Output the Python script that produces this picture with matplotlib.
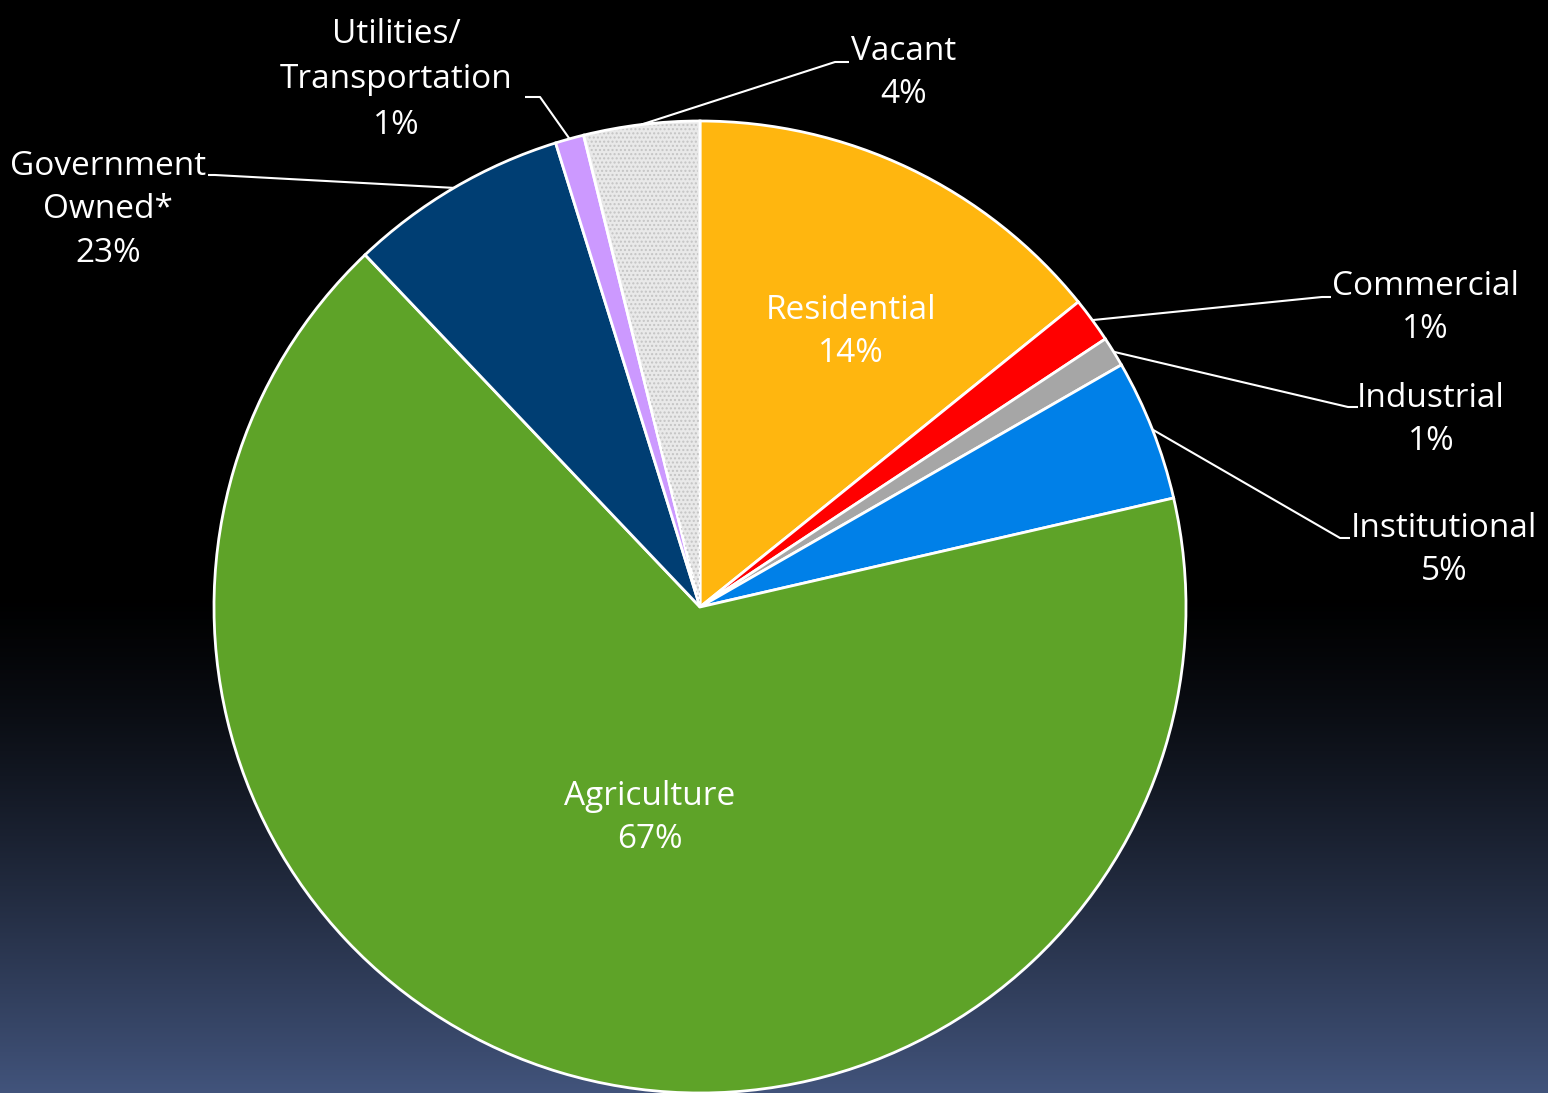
import numpy as np
import matplotlib
matplotlib.use("Agg")
import matplotlib.pyplot as plt
import matplotlib.patches as mpatches

# ---- data ----
categories = ['Residential', 'Commercial', 'Industrial', 'Institutional',
              'Agriculture', 'Government\nOwned*', 'Utilities/\nTransportation', 'Vacant']
slice_values = [14.2, 1.5, 1.0, 4.7, 66.5, 7.3, 0.95, 3.85]
label_pcts = ['14%', '1%', '1%', '5%', '67%', '23%', '1%', '4%']

# ---- style ----
colors = ['#FFB60F', '#FF0000', '#A6A6A6', '#0080E8', '#5EA328', '#003E73', '#CC99FF', '#E9E9E9']
W, H = 1548, 1093
CX, CY, R = 700, 607, 486

plt.rcParams['font.family'] = ['Open Sans', 'DejaVu Sans']

fig = plt.figure(figsize=(W / 100, H / 100), dpi=100)
ax = fig.add_axes([0, 0, 1, 1])

# background gradient
rows = np.arange(H)
t = np.clip((rows - 590) / (H - 590), 0, 1) ** 1.3
top = np.array([0, 0, 0]) / 255
bot = np.array([66, 84, 124]) / 255
grad = top[None, :] + t[:, None] * (bot - top)[None, :]
img = np.repeat(grad[:, None, :], 2, axis=1)
ax.imshow(img, extent=[0, W, H, 0], aspect='auto', zorder=0)

wedges, _ = ax.pie(slice_values, colors=colors, startangle=-90, counterclock=True,
                   center=(CX, CY), radius=R, frame=True,
                   wedgeprops=dict(edgecolor='white', linewidth=2))
for w in wedges:
    w.set_zorder(2)
ax.set_xlim(0, W)
ax.set_ylim(H, 0)
ax.set_aspect('equal')
ax.axis('off')

# texture on Vacant
vw = wedges[7]
hat = mpatches.Wedge((CX, CY), R - 2, vw.theta1 + 0.3, vw.theta2 - 0.3, facecolor='none',
                     edgecolor='#c4c4c4', linewidth=0, hatch='....', zorder=3)
ax.add_patch(hat)

txt = dict(color='white', fontsize=24, ha='center', va='center', zorder=5)

# inside labels
inside = {0: (851, 332), 4: (650, 818)}
for i, (x, y) in inside.items():
    ax.text(x, y, f"{categories[i]}\n{label_pcts[i]}", linespacing=1.38, **txt)

# outside labels: text position, elbow, end of leader, line spacing
outside = {
    7: ((904, 73), (835, 62), (849, 62), 1.4),
    6: ((396, 80), (540, 97), (525, 97), 1.5),
    5: ((108, 210), (215, 175), (208, 175), 1.42),
    1: ((1425, 308), (1322, 297), (1331, 297), 1.38),
    2: ((1431, 420), (1348, 407), (1358, 407), 1.38),
    3: ((1444, 550), (1340, 538), (1350, 538), 1.38),
}
for i, (tp, elbow, end, ls) in outside.items():
    w = wedges[i]
    mid = np.deg2rad((w.theta1 + w.theta2) / 2)
    sx, sy = CX + R * np.cos(mid), CY + R * np.sin(mid)
    ax.plot([sx, elbow[0], end[0]], [sy, elbow[1], end[1]], color='white', lw=1.5,
            zorder=4, solid_capstyle='butt')
    ax.text(tp[0], tp[1], f"{categories[i]}\n{label_pcts[i]}", linespacing=ls, **txt)

fig.savefig('out.png', dpi=100, facecolor='black')
